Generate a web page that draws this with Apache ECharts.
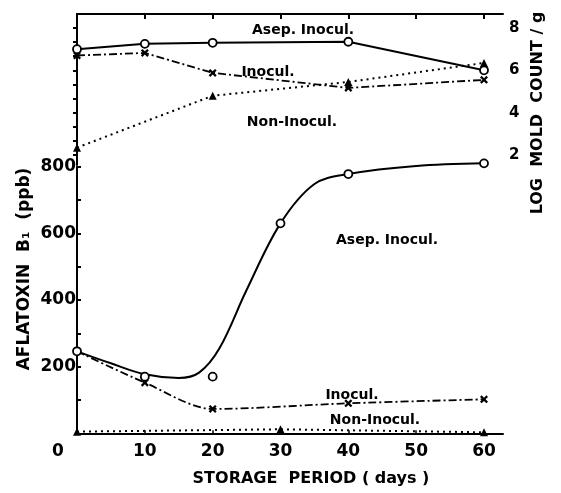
<!DOCTYPE html>
<html>
<head>
<meta charset="utf-8">
<script src="https://cdn.jsdelivr.net/npm/echarts@6/dist/echarts.min.js"></script>
<style>html,body{margin:0;padding:0;background:#fff}#c{width:561px;height:493px}</style>
</head>
<body>
<div id="c"></div>
<script>
// ---- Data ----
// Top panel: log mold count / g
const moldDays = [0, 10, 20, 40, 60];
const moldAsep = [7.0, 7.25, 7.3, 7.35, 6.0];
const moldInocul = [6.7, 6.82, 5.88, 5.17, 5.55];
const moldNonDays = [0, 20, 40, 60];
const moldNon = [2.35, 4.8, 5.45, 6.35];
// Bottom panel: aflatoxin B1 (ppb)
const aflaAsepDays = [0, 10, 20, 30, 40, 60];
const aflaAsep = [246, 170, 170, 630, 778, 810];
const aflaAsepCurveDays = [0, 5, 10, 15, 18, 21, 25, 30, 35, 40, 50, 60];
const aflaAsepCurve = [246, 210, 177, 166, 182, 255, 430, 630, 748, 778, 802, 810];
const aflaInoculDays = [0, 10, 20, 40, 60];
const aflaInocul = [246, 152, 73, 90, 102];
const aflaNonDays = [0, 30, 60];
const aflaNon = [5, 12, 3];
// Tick labels
const xTickLabels = [0, 10, 20, 30, 40, 50, 60];
const aflaTickLabels = [200, 400, 600, 800];
const moldTickLabels = [2, 4, 6, 8];
const moldTicks = [2, 2.67, 3.33, 4, 4.67, 5.33, 6, 6.67, 7.33, 8, 8.67];

const zip = (xs, ys) => xs.map((x, i) => [x, ys[i]]);
const FONT = 'DejaVu Sans';
const XMARK = 'path://M0,2L2,0L5,3L8,0L10,2L7,5L10,8L8,10L5,7L2,10L0,8L3,5Z';
const black = '#000';

const chart = echarts.init(document.getElementById('c'));
const axisLine = { show: true, lineStyle: { color: black, width: 2 } };

const option = {
  backgroundColor: '#fff',
  animation: false,
  grid: [
    { left: 77, top: 14, width: 426, height: 151 },
    { left: 77, top: 166.7, width: 426, height: 266.6 }
  ],
  xAxis: [
    { type: 'value', gridIndex: 0, position: 'top', min: 0, max: 62.8,
      axisLine: axisLine,
      axisTick: { show: true, inside: true, length: 5, lineStyle: { color: black, width: 2 }, customValues: [10, 20, 30, 40, 50, 60] },
      axisLabel: { show: false }, splitLine: { show: false } },
    { type: 'value', gridIndex: 1, position: 'bottom', min: 0, max: 62.8,
      axisLine: axisLine,
      axisTick: { show: true, inside: true, length: 3, lineStyle: { color: black, width: 1.5 }, customValues: [10, 20, 30, 40, 50, 60] },
      axisLabel: { show: true, margin: 10, color: black, fontFamily: FONT, fontWeight: 'bold', fontSize: 17,
        customValues: xTickLabels,
        formatter: v => v === 0 ? '{z|0}' : String(v),
        rich: { z: { padding: [0, 38, 0, 0], fontFamily: FONT, fontWeight: 'bold', fontSize: 17, color: black } } },
      splitLine: { show: false } }
  ],
  yAxis: [
    { type: 'value', gridIndex: 0, position: 'right', min: 1.53, max: 8.66,
      axisLine: axisLine,
      axisTick: { show: true, inside: true, length: 4, lineStyle: { color: black, width: 2 }, customValues: moldTicks },
      axisLabel: { show: true, margin: 6, color: black, fontFamily: FONT, fontWeight: 'bold', fontSize: 15, customValues: moldTickLabels },
      splitLine: { show: false } },
    { type: 'value', gridIndex: 1, position: 'left', min: 0, max: 800,
      axisLine: axisLine,
      axisTick: { show: true, inside: true, length: 4, lineStyle: { color: black, width: 2 }, customValues: [100, 200, 300, 400, 500, 600, 700, 800] },
      axisLabel: { show: true, margin: 1, color: black, fontFamily: FONT, fontWeight: 'bold', fontSize: 17, customValues: aflaTickLabels },
      splitLine: { show: false } }
  ],
  series: [
    // top panel
    { type: 'line', xAxisIndex: 0, yAxisIndex: 0, data: zip(moldDays, moldAsep), clip: false,
      lineStyle: { color: black, width: 2 }, symbol: 'circle', symbolSize: 8,
      itemStyle: { color: '#fff', borderColor: black, borderWidth: 1.8 }, z: 3 },
    { type: 'line', xAxisIndex: 0, yAxisIndex: 0, data: zip(moldDays, moldInocul), clip: false,
      lineStyle: { color: black, width: 1.8, type: [8, 3, 2, 3] }, symbol: XMARK, symbolSize: 8,
      itemStyle: { color: black }, z: 2 },
    { type: 'line', xAxisIndex: 0, yAxisIndex: 0, data: zip(moldNonDays, moldNon), clip: false,
      lineStyle: { color: black, width: 2, type: [2, 4] }, symbol: 'triangle', symbolSize: 8,
      itemStyle: { color: black }, z: 2 },
    // bottom panel
    { type: 'line', xAxisIndex: 1, yAxisIndex: 1, data: zip(aflaAsepCurveDays, aflaAsepCurve), clip: false,
      smooth: 0.35, showSymbol: false, symbol: 'none',
      lineStyle: { color: black, width: 2 }, z: 2 },
    { type: 'scatter', xAxisIndex: 1, yAxisIndex: 1, data: zip(aflaAsepDays, aflaAsep), clip: false,
      symbol: 'circle', symbolSize: 8, itemStyle: { color: '#fff', borderColor: black, borderWidth: 1.8, opacity: 1 }, z: 4 },
    { type: 'line', xAxisIndex: 1, yAxisIndex: 1, data: zip(aflaInoculDays, aflaInocul), smooth: 0.3, clip: false,
      lineStyle: { color: black, width: 1.8, type: [8, 3, 2, 3] }, symbol: XMARK, symbolSize: 8,
      itemStyle: { color: black }, z: 3 },
    { type: 'line', xAxisIndex: 1, yAxisIndex: 1, data: zip(aflaNonDays, aflaNon), clip: false,
      lineStyle: { color: black, width: 2, type: [2, 4] }, symbol: 'triangle', symbolSize: 8,
      itemStyle: { color: black }, z: 3 }
  ],
  graphic: [
    { type: 'text', x: 303, y: 30, style: { text: 'Asep. Inocul.', font: 'bold 14px ' + FONT, fill: black, textAlign: 'center', textVerticalAlign: 'middle', align: 'center', verticalAlign: 'middle' } },
    { type: 'text', x: 268, y: 72, style: { text: 'Inocul.', font: 'bold 14px ' + FONT, fill: black, textAlign: 'center', textVerticalAlign: 'middle', align: 'center', verticalAlign: 'middle' } },
    { type: 'text', x: 292, y: 122, style: { text: 'Non-Inocul.', font: 'bold 14px ' + FONT, fill: black, textAlign: 'center', textVerticalAlign: 'middle', align: 'center', verticalAlign: 'middle' } },
    { type: 'text', x: 387, y: 240, style: { text: 'Asep. Inocul.', font: 'bold 14px ' + FONT, fill: black, textAlign: 'center', textVerticalAlign: 'middle', align: 'center', verticalAlign: 'middle' } },
    { type: 'text', x: 352, y: 395, style: { text: 'Inocul.', font: 'bold 14px ' + FONT, fill: black, textAlign: 'center', textVerticalAlign: 'middle', align: 'center', verticalAlign: 'middle' } },
    { type: 'text', x: 375, y: 420, style: { text: 'Non-Inocul.', font: 'bold 14px ' + FONT, fill: black, textAlign: 'center', textVerticalAlign: 'middle', align: 'center', verticalAlign: 'middle' } },
    { type: 'text', x: 311, y: 479, style: { text: 'STORAGE  PERIOD ( days )', font: 'bold 16px ' + FONT, fill: black, textAlign: 'center', textVerticalAlign: 'middle', align: 'center', verticalAlign: 'middle' } },
    { type: 'text', x: 25, y: 269, rotation: Math.PI / 2, style: { text: 'AFLATOXIN  B\u2081  (ppb)', font: 'bold 17px ' + FONT, fill: black, textAlign: 'center', textVerticalAlign: 'middle', align: 'center', verticalAlign: 'middle' } },
    { type: 'text', x: 538, y: 113, rotation: Math.PI / 2, style: { text: 'LOG  MOLD  COUNT / g', font: 'bold 16px ' + FONT, fill: black, textAlign: 'center', textVerticalAlign: 'middle', align: 'center', verticalAlign: 'middle' } }
  ]
};
chart.setOption(option);
</script>
</body>
</html>
